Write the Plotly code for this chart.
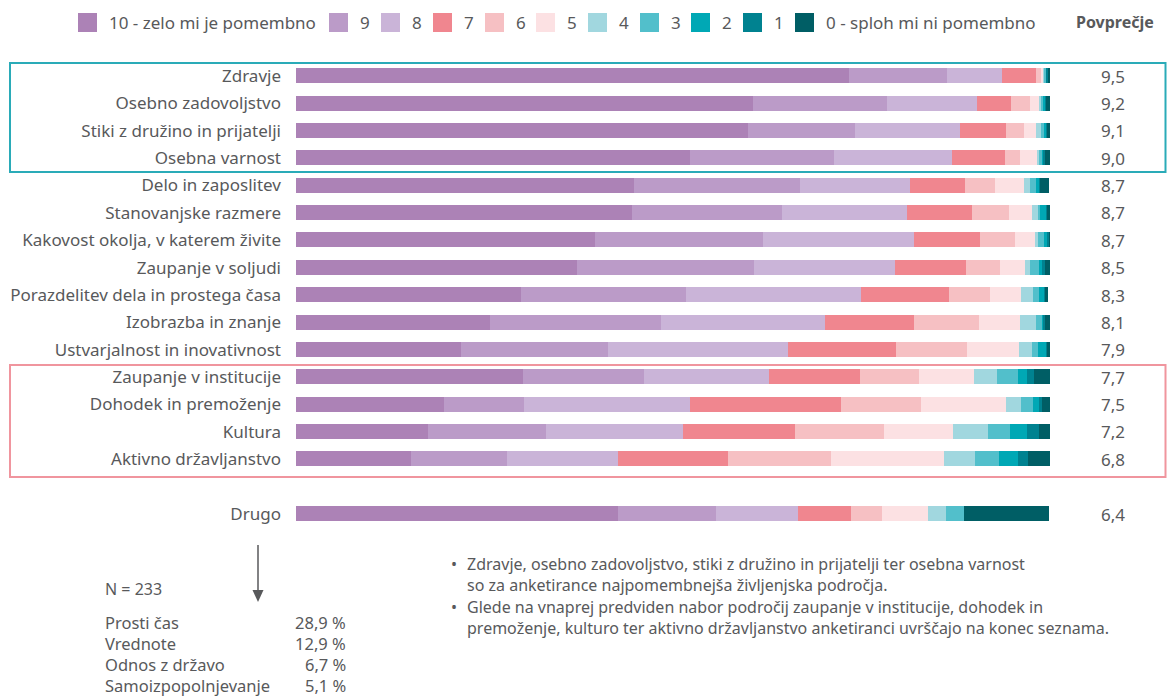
import plotly.graph_objects as go

W, H = 1168, 698

categories = ["Zdravje", "Osebno zadovoljstvo", "Stiki z družino in prijatelji", "Osebna varnost",
              "Delo in zaposlitev", "Stanovanjske razmere", "Kakovost okolja, v katerem živite",
              "Zaupanje v soljudi", "Porazdelitev dela in prostega časa", "Izobrazba in znanje",
              "Ustvarjalnost in inovativnost", "Zaupanje v institucije", "Dohodek in premoženje",
              "Kultura", "Aktivno državljanstvo", "Drugo"]
row_pos = [0, 1, 2, 3, 4, 5, 6, 7, 8, 9, 10, 11, 12, 13, 14, 16]
averages = ["9,5", "9,2", "9,1", "9,0", "8,7", "8,7", "8,7", "8,5", "8,3", "8,1", "7,9",
            "7,7", "7,5", "7,2", "6,8", "6,4"]

score_labels = ["10 - zelo mi je pomembno", "9", "8", "7", "6", "5", "4", "3", "2", "1",
                "0 - sploh mi ni pomembno"]
s10 = [73.3, 60.6, 59.9, 52.3, 44.8, 44.6, 39.7, 37.3, 29.8, 25.7, 21.9, 30.1, 19.6, 17.5, 15.3, 42.7]
s9 = [13.1, 17.8, 14.3, 19.0, 22.1, 19.9, 22.3, 23.5, 21.9, 22.7, 19.5, 16.0, 10.7, 15.6, 12.7, 13.0]
s8 = [7.2, 11.9, 13.8, 15.7, 14.5, 16.6, 19.9, 18.7, 23.2, 21.8, 23.9, 16.6, 22.0, 18.2, 14.7, 10.9]
s7 = [4.5, 4.5, 6.1, 7.0, 7.3, 8.6, 8.8, 9.3, 11.7, 11.8, 14.3, 12.1, 20.0, 14.9, 14.6, 7.0]
s6 = [0.8, 2.5, 2.4, 2.0, 4.0, 4.8, 4.6, 4.6, 5.4, 8.6, 9.4, 7.8, 10.6, 11.8, 13.7, 4.1]
s5 = [0.2, 1.3, 1.6, 2.3, 3.8, 3.1, 2.7, 3.3, 4.1, 5.4, 6.9, 7.3, 11.3, 9.2, 14.9, 6.1]
s4 = [0.2, 0.2, 0.7, 0.3, 0.9, 0.8, 0.4, 0.7, 1.7, 2.1, 1.7, 3.1, 1.9, 4.6, 4.2, 2.4]
s3 = [0.2, 0.3, 0.4, 0.3, 0.8, 0.3, 0.8, 1.1, 0.7, 0.8, 0.8, 2.8, 1.6, 2.9, 3.2, 2.4]
s2 = [0.1, 0.3, 0.3, 0.3, 0.4, 0.8, 0.4, 0.5, 0.8, 0.3, 1.1, 1.2, 0.8, 2.3, 2.5, 0.0]
s1 = [0.1, 0.1, 0.1, 0.1, 0.1, 0.1, 0.3, 0.4, 0.1, 0.1, 0.1, 0.9, 0.4, 1.6, 1.3, 0.0]
s0 = [0.3, 0.5, 0.4, 0.7, 1.2, 0.5, 0.3, 0.7, 0.4, 0.7, 0.4, 2.1, 1.1, 1.5, 2.9, 11.3]
series = [s10, s9, s8, s7, s6, s5, s4, s3, s2, s1, s0]

colors = ["#AC82B6", "#BB9BC8", "#CAB4D8", "#F0868F", "#F6C0C3", "#FCE1E3",
          "#A1D7DF", "#52BFCB", "#00A8B5", "#008290", "#005E65"]

other_labels = ["Prosti čas", "Vrednote", "Odnos z državo", "Samoizpopolnjevanje"]
other_values = ["28,9 %", "12,9 %", "6,7 %", "5,1 %"]
n_text = "N = 233"
bullets = ["Zdravje, osebno zadovoljstvo, stiki z družino in prijatelji ter osebna varnost<br>so za anketirance najpomembnejša življenjska področja.",
           "Glede na vnaprej predviden nabor področij zaupanje v institucije, dohodek in<br>premoženje, kulturo ter aktivno državljanstvo anketiranci uvrščajo na konec seznama."]

FONT = "Noto Sans"
TXT = "#58595B"
FS = 17


def px(x):
    return x / W


def py(y):
    return 1 - y / H


fig = go.Figure()
for lab, vals, col in zip(score_labels, series, colors):
    fig.add_trace(go.Bar(
        y=row_pos, x=vals, orientation="h", name=lab,
        marker=dict(color=col, line=dict(width=0)),
        width=0.55, showlegend=False, hoverinfo="x+name"))

# y-axis geometry: row 0 centre at 76px, row 16 centre at 514px
y_top_px = 76 - 27.375 * 0.5
y_bot_px = 514 + 27.375 * 0.5

shapes = []
annotations = []

# custom legend
sq_x = [78, 329, 381, 433, 485, 536, 588, 640, 691, 743, 795]
for x0, lab, col in zip(sq_x, score_labels, colors):
    shapes.append(dict(type="rect", xref="paper", yref="paper",
                       x0=px(x0), x1=px(x0 + 19), y0=py(13), y1=py(32),
                       fillcolor=col, line=dict(width=0)))
    annotations.append(dict(xref="paper", yref="paper", x=px(x0 + 29), y=py(22.5),
                            text=lab, showarrow=False, xanchor="left", yanchor="middle",
                            font=dict(family=FONT, size=FS, color=TXT)))
annotations.append(dict(xref="paper", yref="paper", x=px(1115), y=py(22.5),
                        text="<b>Povprečje</b>", showarrow=False, xanchor="center",
                        yanchor="middle", font=dict(family=FONT, size=16, color=TXT)))

# averages
for yp, av in zip(row_pos, averages):
    annotations.append(dict(xref="paper", yref="y", x=px(1113), y=yp, text=av,
                            showarrow=False, xanchor="center", yanchor="middle",
                            font=dict(family=FONT, size=FS, color=TXT)))

# highlight boxes
shapes.append(dict(type="rect", xref="paper", yref="paper", x0=px(10), x1=px(1165.5),
                   y0=py(172), y1=py(63), line=dict(color="#2AABB8", width=2)))
shapes.append(dict(type="rect", xref="paper", yref="paper", x0=px(10), x1=px(1165.5),
                   y0=py(477), y1=py(365), line=dict(color="#F0959E", width=2)))

# arrow
shapes.append(dict(type="line", xref="paper", yref="paper", x0=px(258), x1=px(258),
                   y0=py(545), y1=py(592), line=dict(color="#58595B", width=1.5)))
shapes.append(dict(type="path", xref="paper", yref="paper",
                   path=f"M {px(252.5)} {py(590)} L {px(263.5)} {py(590)} L {px(258)} {py(602)} Z",
                   fillcolor="#58595B", line=dict(width=0)))

annotations.append(dict(xref="paper", yref="paper", x=px(103), y=py(589), text=n_text,
                        showarrow=False, xanchor="left", yanchor="middle",
                        font=dict(family=FONT, size=16, color=TXT)))
for i, (lab, val) in enumerate(zip(other_labels, other_values)):
    yy = 622 + 21.3 * i
    annotations.append(dict(xref="paper", yref="paper", x=px(103), y=py(yy), text=lab,
                            showarrow=False, xanchor="left", yanchor="middle",
                            font=dict(family=FONT, size=16.5, color=TXT)))
    annotations.append(dict(xref="paper", yref="paper", x=px(348), y=py(yy), text=val,
                            showarrow=False, xanchor="right", yanchor="middle",
                            font=dict(family=FONT, size=16.5, color=TXT)))

for i, b in enumerate(bullets):
    ytop = 551 + 43 * i
    annotations.append(dict(xref="paper", yref="paper", x=px(449), y=py(ytop), text="•",
                            showarrow=False, xanchor="left", yanchor="top",
                            font=dict(family=FONT, size=16, color=TXT)))
    annotations.append(dict(xref="paper", yref="paper", x=px(465), y=py(ytop), text=b,
                            showarrow=False, xanchor="left", yanchor="top", align="left",
                            font=dict(family=FONT, size=16, color=TXT)))

fig.update_layout(
    width=W, height=H, barmode="stack",
    margin=dict(l=0, r=0, t=0, b=0),
    paper_bgcolor="white", plot_bgcolor="white",
    bargap=0,
    xaxis=dict(domain=[px(296), px(1050)], range=[0, 100], showgrid=False,
               zeroline=False, showticklabels=False, showline=False, fixedrange=True),
    yaxis=dict(domain=[py(y_bot_px), py(y_top_px)], range=[16.5, -0.5],
               tickvals=row_pos, ticktext=categories, showgrid=False, zeroline=False,
               showline=False, ticks="", ticklabelstandoff=14,
               tickfont=dict(family=FONT, size=FS, color=TXT), fixedrange=True),
    shapes=shapes, annotations=annotations, showlegend=False,
    font=dict(family=FONT, color=TXT),
)

fig.write_html("out.html", config={"displayModeBar": False},
               post_script="document.body.style.margin='0';document.body.style.overflow='hidden';")
